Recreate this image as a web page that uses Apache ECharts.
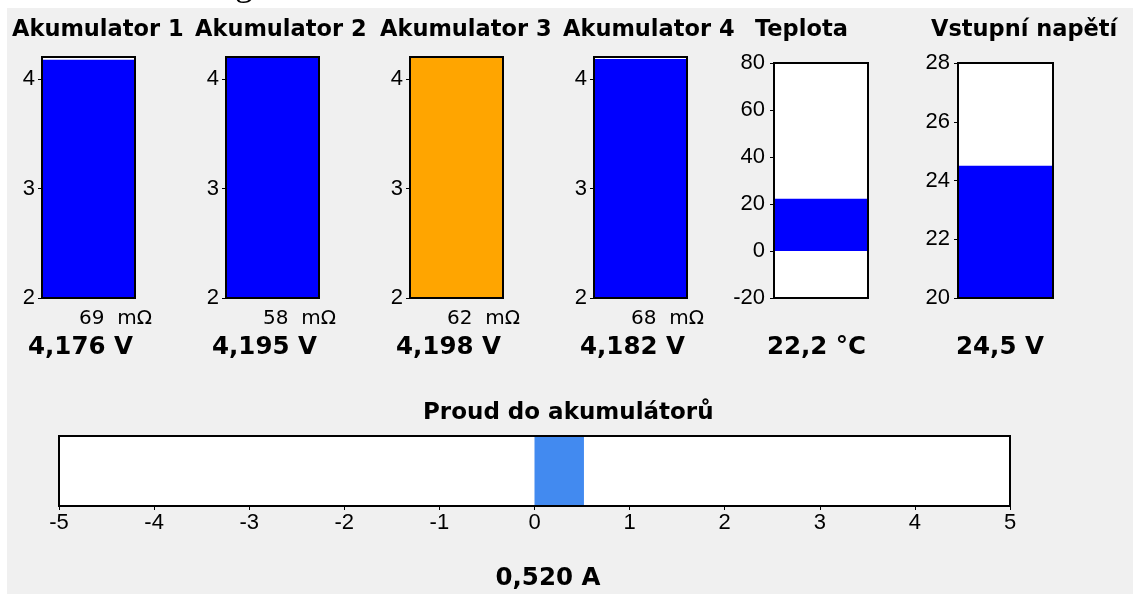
<!DOCTYPE html>
<html><head><meta charset="utf-8">
<script src="https://cdn.jsdelivr.net/npm/echarts@6/dist/echarts.min.js"></script>
<style>html,body{margin:0;padding:0;background:#f0f0f0}#c{width:1133px;height:594px}</style>
</head><body><div id="c"></div>
<script>
// ---- data ----
const accNames = ['Akumulator 1', 'Akumulator 2', 'Akumulator 3', 'Akumulator 4'];
const accVoltage = [4.176, 4.195, 4.198, 4.182];
const accResistance = [69, 58, 62, 68];
const accTicks = [2, 3, 4];
const accRange = [2, 4.2];
const tempTitle = 'Teplota';
const tempValue = [22.2];
const tempTicks = [-20, 0, 20, 40, 60, 80];
const inputTitle = 'Vstupní napětí';
const inputValue = [24.5];
const inputTicks = [20, 22, 24, 26, 28];
const currentTitle = 'Proud do akumulátorů';
const currentValue = [0.520];
const currentTicks = [-5, -4, -3, -2, -1, 0, 1, 2, 3, 4, 5];

// ---- styles / layout ----
const accColors = ['#0000ff', '#0000ff', '#ffa500', '#0000ff'];
const BLUE = '#0000ff', CUR = '#428af0';
const accLeft = [42, 226, 410, 594], accW = 93;
const boldFont = 'DejaVu Sans';
const tickFont = 'Arial';
const fmt = (v, d) => v.toFixed(d).replace('.', ',');

const grids = [], xAxes = [], yAxes = [], series = [], graphics = [];

function vAxis(i, ticks, min, max, margin) {
  return {
    gridIndex: i, type: 'value', min: min, max: max,
    interval: ticks[1] - ticks[0],
    axisLine: { show: false },
    axisTick: { show: true, length: 4, lineStyle: { color: '#000', width: 1 }, customValues: ticks },
    axisLabel: { customValues: ticks, fontSize: 22, fontFamily: tickFont, color: '#000', margin: margin },
    splitLine: { show: false }
  };
}
function vBar(i, name, vals, color) {
  xAxes.push({ gridIndex: i, type: 'category', data: [name], show: false });
  series.push({
    type: 'bar', xAxisIndex: i, yAxisIndex: i, data: vals, barWidth: '100%',
    itemStyle: { color: color }, showBackground: true,
    backgroundStyle: { color: '#fff', opacity: 1 }, silent: true
  });
}
function gridBox(left, top, width, height) {
  grids.push({ left: left, top: top, width: width, height: height, show: true,
    backgroundColor: 'transparent', borderColor: '#000', borderWidth: 2, z: 5 });
}
function txt(text, x, y, size, bold, align, family) {
  graphics.push({ type: 'text', x: x, y: y, silent: true, style: {
    text: text, fontSize: size, fontWeight: bold ? 'bold' : 'normal',
    fontFamily: family || boldFont, fill: '#000', align: align, verticalAlign: 'middle' } });
}

// accumulators
const accTitleX = [12, 195, 380, 563];
accNames.forEach((n, i) => {
  gridBox(accLeft[i], 57, accW, 241);
  vBar(i, n, [accVoltage[i]], accColors[i]);
  yAxes.push(vAxis(i, accTicks, accRange[0], accRange[1], 7));
  txt(n, accTitleX[i], 30, 22.5, true, 'left');
  txt(accResistance[i] + '  mΩ', accLeft[i] + accW + 17, 319, 20, false, 'right');
  txt(fmt(accVoltage[i], 3) + ' V', accLeft[i] + accW / 2 - 8, 348, 24.5, true, 'center');
});
// temperature
gridBox(774, 63, 94, 235);
vBar(4, tempTitle, tempValue, BLUE);
yAxes.push(vAxis(4, tempTicks, tempTicks[0], tempTicks[tempTicks.length - 1], 9));
txt(tempTitle, 755, 30, 22.5, true, 'left');
txt(fmt(tempValue[0], 1) + ' °C', 816.5, 348, 24.5, true, 'center');
// input voltage
gridBox(958, 63, 95, 235);
vBar(5, inputTitle, inputValue, BLUE);
yAxes.push(vAxis(5, inputTicks, inputTicks[0], inputTicks[inputTicks.length - 1], 8));
txt(inputTitle, 931, 30, 22.5, true, 'left');
txt(fmt(inputValue[0], 1) + ' V', 1000, 348, 24.5, true, 'center');
// current
gridBox(59, 436, 951, 70);
xAxes.push({
  gridIndex: 6, type: 'value', min: currentTicks[0], max: currentTicks[currentTicks.length - 1],
  interval: 1, position: 'bottom',
  axisLine: { show: false },
  axisTick: { show: true, length: 4, lineStyle: { color: '#000', width: 1 } },
  axisLabel: { fontSize: 22, fontFamily: tickFont, color: '#000', margin: 6 },
  splitLine: { show: false }
});
yAxes.push({ gridIndex: 6, type: 'category', data: [currentTitle], show: false });
series.push({
  type: 'bar', xAxisIndex: 6, yAxisIndex: 6, data: currentValue, barWidth: '100%',
  itemStyle: { color: CUR }, showBackground: true,
  backgroundStyle: { color: '#fff', opacity: 1 }, silent: true
});
txt(currentTitle, 423, 413, 23, true, 'left');
txt(fmt(currentValue[0], 3) + ' A', 548, 579, 24.5, true, 'center');

// white margin strips of the screenshot
graphics.push({ type: 'rect', shape: { x: 0, y: 0, width: 1133, height: 8 }, style: { fill: '#fff' }, silent: true, z: -1 });
graphics.push({ type: 'rect', shape: { x: 0, y: 0, width: 7, height: 594 }, style: { fill: '#fff' }, silent: true, z: -1 });
graphics.push({ type: 'text', x: 235, y: -14, silent: true, style: { text: 'g', fontSize: 36, fontFamily: 'Liberation Serif', fill: '#000', align: 'left', verticalAlign: 'middle' } });

const chart = echarts.init(document.getElementById('c'), null, { renderer: 'canvas' });
chart.setOption({
  backgroundColor: '#f0f0f0',
  animation: false,
  grid: grids, xAxis: xAxes, yAxis: yAxes, series: series, graphic: graphics
});
</script></body></html>
